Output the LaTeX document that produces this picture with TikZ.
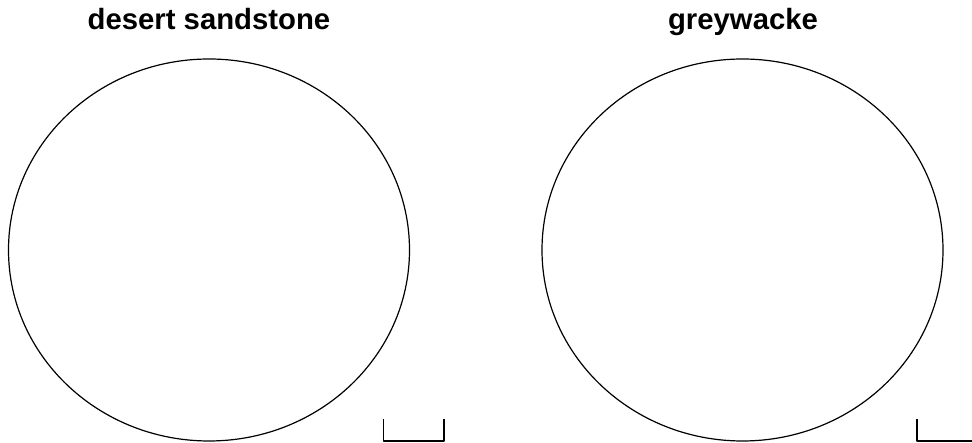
\documentclass[tikz,border=0pt]{standalone}
\usepackage{fontspec}
\setmainfont{Liberation Sans}
\begin{document}
\begin{tikzpicture}[x=1pt,y=1pt,line join=round,
		title/.style={font=\fontsize{29.3}{34}\selectfont\bfseries,anchor=base,inner sep=0pt},
		grain/.style={line width=1.2pt},
		scalebar/.style={line width=1.6pt}]
		\useasboundingbox (0,0) rectangle (972,443);
		\node[title] (lefttitle) at (209,413) {desert sandstone};
		\node[title] (righttitle) at (743,413) {greywacke};
		\draw[grain] (209,193) ellipse [x radius=200.5, y radius=191];
		\draw[grain] (742.5,193) ellipse [x radius=200.5, y radius=191];
		\draw[scalebar] (383.5,24) -- (383.5,1.8) -- (444,1.8) -- (444,24);
		\draw[scalebar] (917,24) -- (917,1.8) -- (973,1.8);
\end{tikzpicture}
\end{document}
